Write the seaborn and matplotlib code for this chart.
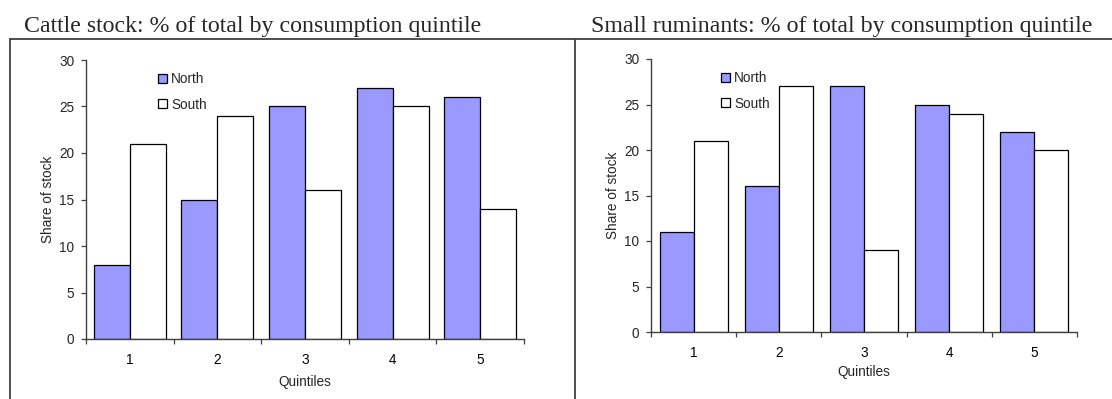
import matplotlib
matplotlib.use("Agg")
import matplotlib.pyplot as plt
from matplotlib.lines import Line2D
from matplotlib.ticker import MultipleLocator, FixedLocator
import seaborn as sns
import pandas as pd

quintiles = ["1", "2", "3", "4", "5"]
regions = ["North", "South"]

cattle_north = [8, 15, 25, 27, 26]
cattle_south = [21, 24, 16, 25, 14]
small_north = [11, 16, 27, 25, 22]
small_south = [21, 27, 9, 24, 20]

titles = [
    "Cattle stock: % of total by consumption quintile",
    "Small ruminants: % of total by consumption quintile",
]
y_label = "Share of stock"
x_label = "Quintiles"

palette = {"North": "#9999FF", "South": "#FFFFFF"}


def long_frame(north, south):
    return pd.DataFrame({
        "Quintile": quintiles * 2,
        "Region": ["North"] * len(north) + ["South"] * len(south),
        "Share": list(north) + list(south),
    })


sns.set_theme(style="white")
plt.rcParams["font.family"] = ["Liberation Sans", "DejaVu Sans"]

W, H = 1112, 399
fig = plt.figure(figsize=(W / 100, H / 100), dpi=100)

# panel geometry in pixels: (left, bottom-y, right, top-y)
panels = [(86, 339, 524, 60), (651, 332, 1077, 59)]
bar_widths = [0.82, 0.80]
legend_xy = [(158, 72), (721, 71)]
title_xy = [(24, 32), (591, 32)]
xlabel_pads = [6, 4]

datasets = [(cattle_north, cattle_south), (small_north, small_south)]
axis_col = "#404040"
fs = 9.8

for i, (north, south) in enumerate(datasets):
    l, b, r, t = panels[i]
    ax = fig.add_axes([l / W, 1 - b / H, (r - l) / W, (b - t) / H])
    df = long_frame(north, south)
    sns.barplot(data=df, x="Quintile", y="Share", hue="Region",
                hue_order=regions, order=quintiles, palette=palette,
                width=bar_widths[i], edgecolor="black", linewidth=0.9,
                saturation=1, ax=ax, legend=True)
    ax.set_xlim(-0.5, 4.5)
    ax.set_ylim(0, 30)
    ax.yaxis.set_major_locator(MultipleLocator(5))
    ax.xaxis.set_minor_locator(FixedLocator([k - 0.5 for k in range(6)]))
    ax.tick_params(axis="x", which="major", length=0, labelsize=fs, pad=10,
                   colors="black")
    ax.tick_params(axis="x", which="minor", length=3.5, width=0.9,
                   direction="out", color=axis_col, bottom=True)
    ax.tick_params(axis="y", which="major", length=3.5, width=0.9,
                   direction="out", color=axis_col, labelsize=fs, pad=5,
                   left=True)
    for side in ("top", "right"):
        ax.spines[side].set_visible(False)
    for side in ("left", "bottom"):
        ax.spines[side].set_color(axis_col)
        ax.spines[side].set_linewidth(1.0)
    ax.set_xlabel(x_label, fontsize=fs, labelpad=xlabel_pads[i])
    ax.set_ylabel(y_label, fontsize=fs, labelpad=3)
    ax.grid(False)
    ax.set_facecolor("white")

    handles, labels = ax.get_legend_handles_labels()
    lx, ly = legend_xy[i]
    ax.legend(handles, labels, loc="upper left",
              bbox_to_anchor=(lx / W, 1 - ly / H),
              bbox_transform=fig.transFigure, frameon=False,
              fontsize=fs, handlelength=0.68, handleheight=0.68,
              handletextpad=0.3, labelspacing=0.85, borderaxespad=0,
              borderpad=0)

    tx, ty = title_xy[i]
    fig.text(tx / W, 1 - ty / H, titles[i], family="Liberation Serif",
             fontsize=17.2, ha="left", va="baseline")

# Panel frame lines
frame_y = 1 - 39 / H
fig.add_artist(Line2D([10 / W, 1], [frame_y, frame_y],
                      transform=fig.transFigure, color="#404040", lw=1.3))
for xpx in (10, 575):
    fig.add_artist(Line2D([xpx / W, xpx / W], [0, frame_y],
                          transform=fig.transFigure, color="#404040", lw=1.3))

fig.savefig("out.png", dpi=100, facecolor="white")
